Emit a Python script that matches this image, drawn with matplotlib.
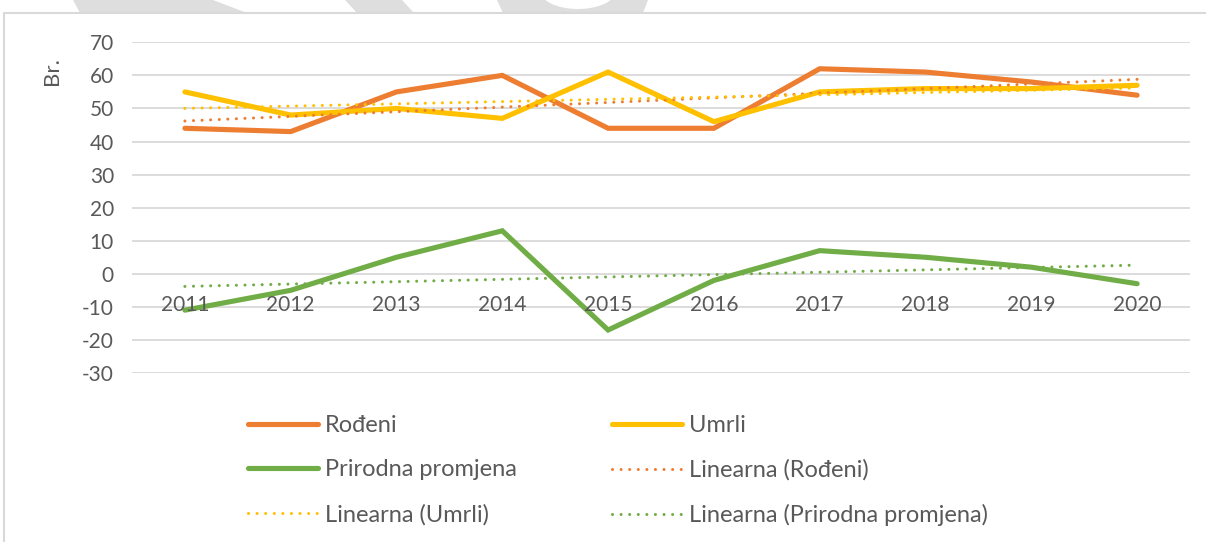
import numpy as np
import matplotlib
matplotlib.use("Agg")
import matplotlib.pyplot as plt
from matplotlib.patches import Polygon, Ellipse, Rectangle

plt.rcParams['font.family'] = ['Lato', 'DejaVu Sans']
plt.rcParams['axes.unicode_minus'] = False

years = ['2011', '2012', '2013', '2014', '2015', '2016', '2017', '2018', '2019', '2020']
rodjeni = [44, 43, 55, 60, 44, 44, 62, 61, 58, 54]
umrli = [55, 48, 50, 47, 61, 46, 55, 56, 56, 57]
prirodna = [-11, -5, 5, 13, -17, -2, 7, 5, 2, -3]

ORANGE = '#ED7D31'
YELLOW = '#FFC000'
GREEN = '#70AD47'
GRID = '#D9D9D9'
TXT = '#595959'

W, H = 1206, 542
fig = plt.figure(figsize=(W / 100, H / 100), dpi=100)


def fx(px):
    return px / W


def fy(py):
    return 1 - py / H


# light grey watermark pieces cut off at the top
for pts in [[(73, 0), (213, 0), (247, 13), (80, 13)],
            [(345, 0), (402, 0), (414, 13), (357, 13)],
            [(497, 0), (648, 0), (643, 13), (503, 13)]]:
    fig.patches.append(Polygon([(fx(a), fy(b)) for a, b in pts], closed=True,
                               transform=fig.transFigure, facecolor='#DEDEDE',
                               edgecolor='none', zorder=0))
fig.patches.append(Ellipse((fx(578), fy(-10)), 77 / W, 38 / H, transform=fig.transFigure,
                           facecolor='white', edgecolor='none', zorder=0.5))
# chart frame
fig.patches.append(Rectangle((fx(4), -0.05), 1.2, fy(13) + 0.05, transform=fig.transFigure,
                             fill=False, edgecolor=GRID, lw=1.5, zorder=1))

ax = fig.add_axes([fx(132), fy(373), fx(1190) - fx(132), fy(42.3) - fy(373)])
x = np.arange(len(years))

ax.set_xlim(-0.5, len(years) - 0.5)
ax.set_ylim(-30, 70)
ax.set_yticks(range(-30, 71, 10))
ax.set_xticks([])
ax.grid(axis='y', color=GRID, lw=1.3)
ax.set_axisbelow(True)
for s in ax.spines.values():
    s.set_visible(False)
ax.tick_params(axis='y', length=0, pad=13, labelsize=15, labelcolor=TXT)

# category labels sit next to the zero line
for i, yr in enumerate(years):
    ax.annotate(yr, (i, 0), xytext=(0, -31), textcoords='offset pixels',
                ha='center', va='center', fontsize=15, color=TXT)

l1, = ax.plot(x, rodjeni, color=ORANGE, lw=3.7, solid_capstyle='round', solid_joinstyle='miter', label='Rođeni')
l2, = ax.plot(x, umrli, color=YELLOW, lw=3.7, solid_capstyle='round', solid_joinstyle='miter', label='Umrli')
l3, = ax.plot(x, prirodna, color=GREEN, lw=3.7, solid_capstyle='round', solid_joinstyle='miter', label='Prirodna promjena')

dots = (0, (0.01, 2.8))
trend = {}
for name, vals, c in [('Rođeni', rodjeni, ORANGE), ('Umrli', umrli, YELLOW),
                      ('Prirodna promjena', prirodna, GREEN)]:
    k, b = np.polyfit(x, vals, 1)
    trend[name], = ax.plot(x, k * x + b, color=c, lw=2.2, linestyle=dots,
                           dash_capstyle='round', label=f'Linearna ({name})')

fig.text(fx(52), fy(71), 'Br.', rotation=90, ha='center', va='center', fontsize=16, color=TXT)

leg_kw = dict(frameon=False, fontsize=17, handlelength=2.95, handletextpad=0.3,
              labelspacing=0.99, borderpad=0, borderaxespad=0, loc='upper left',
              bbox_transform=fig.transFigure, labelcolor=TXT)
leg1 = fig.legend([l1, l3, trend['Umrli']],
                  ['Rođeni', 'Prirodna promjena', 'Linearna (Umrli)'],
                  bbox_to_anchor=(fx(248), fy(415)), **leg_kw)
leg2 = fig.legend([l2, trend['Rođeni'], trend['Prirodna promjena']],
                  ['Umrli', 'Linearna (Rođeni)', 'Linearna (Prirodna promjena)'],
                  bbox_to_anchor=(fx(612), fy(415)), **leg_kw)

fig.savefig('out.png', dpi=100)
